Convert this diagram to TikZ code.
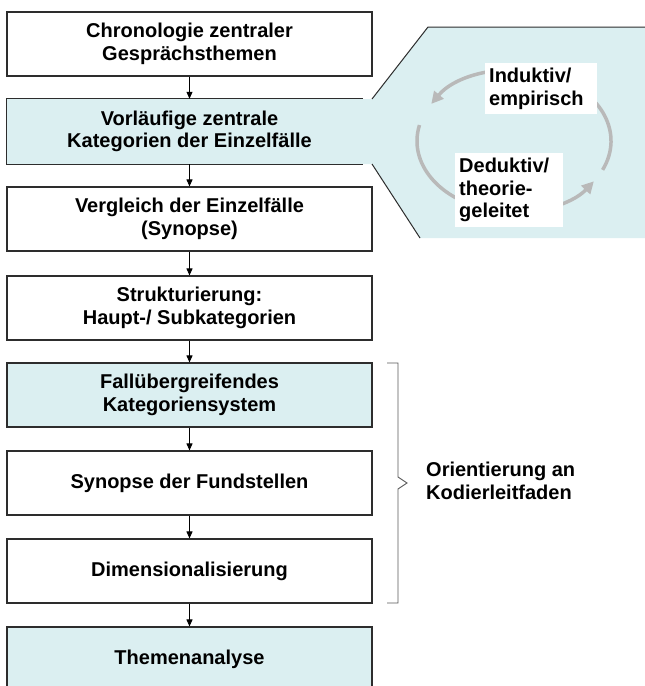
\documentclass[tikz,border=0pt]{standalone}
\usepackage{fontspec}
\setmainfont{Liberation Sans}
\usetikzlibrary{arrows.meta}
\definecolor{paleblue}{RGB}{219,239,241}
\definecolor{loopgray}{RGB}{185,185,185}
\definecolor{edgedark}{RGB}{45,45,45}
\begin{document}
\begin{tikzpicture}[x=1pt,y=-1pt,
  every node/.style={font=\bfseries\fontsize{20}{22.5}\selectfont},
  stage/.style={rectangle, minimum width=365pt, minimum height=64pt, inner sep=0pt, align=center},
  outlined/.style={draw=edgedark, line width=1.1pt},
  flow/.style={-{Triangle[length=7pt,width=6pt]}, line width=0.8pt, black},
  looparrow/.style={line width=3.5pt, loopgray, -{Triangle[length=12pt,width=12pt]}},
  tag/.style={fill=white, align=left, anchor=north west, inner sep=4pt},
  bracket/.style={draw=edgedark!80, line width=0.9pt}
]
\useasboundingbox (0,0) rectangle (645,686);
\clip (0,0) rectangle (645,686);

% callout panel behind the second stage
\fill[paleblue] (363,99) -- (372,99) -- (428,27) -- (645,27) -- (645,238)
  -- (420,238) -- (372,164) -- (363,164) -- cycle;
\draw[edgedark, line width=1pt] (372,99) -- (428,27) -- (645,27);
\draw[edgedark, line width=1pt] (372,164) -- (420,238);

% process stages
\node[stage, outlined] (b1) at (189.5,44) {Chronologie zentraler\\Gesprächsthemen};
\node[stage, fill=paleblue, minimum height=65pt] (b2) at (189.5,131.5) {Vorläufige zentrale\\Kategorien der Einzelfälle};
\draw[edgedark, line width=1.1pt] ([xshift=-9pt]b2.north east) -- (b2.north west)
  -- (b2.south west) -- ([xshift=-9pt]b2.south east);
\node[stage, outlined] (b3) at (189.5,219) {Vergleich der Einzelfälle\\(Synopse)};
\node[stage, outlined] (b4) at (189.5,308) {Strukturierung:\\Haupt-/ Subkategorien};
\node[stage, outlined, fill=paleblue] (b5) at (189.5,395) {Fallübergreifendes\\Kategoriensystem};
\node[stage, outlined] (b6) at (189.5,483) {Synopse der Fundstellen};
\node[stage, outlined] (b7) at (189.5,571) {Dimensionalisierung};
\node[stage, outlined, fill=paleblue] (b8) at (189.5,659) {Themenanalyse};

\foreach \a/\b in {b1/b2,b2/b3,b3/b4,b4/b5,b5/b6,b6/b7,b7/b8}
  \draw[flow] (\a.south) -- (\b.north);

% bracket over the coded stages
\coordinate (brtop) at (387,363);
\coordinate (brbot) at (387,603);
\coordinate (brtip) at (407,483);
\draw[bracket] (brtop) -- (398,363) -- (398,477) -- (brtip) -- (398,489) -- (398,603) -- (brbot);
\node[anchor=west, align=left, inner sep=0pt] (guide) at (426,481) {Orientierung an\\Kodierleitfaden};

% inductive / deductive cycle
\coordinate (cc) at (514,141);
\draw[looparrow] (cc) ++(24:97 and 71) arc[start angle=24, end angle=-148.5, x radius=97, y radius=71];
\draw[looparrow] (cc) ++(193:97 and 71) arc[start angle=193, end angle=34.6, x radius=97, y radius=71];
\node[tag, text width=104pt, minimum height=51pt] (ind) at (485,63) {Induktiv/\\empirisch};
\node[tag, text width=100pt, minimum height=74pt] (ded) at (455,153) {Deduktiv/\\theorie-\\geleitet};
\end{tikzpicture}
\end{document}
